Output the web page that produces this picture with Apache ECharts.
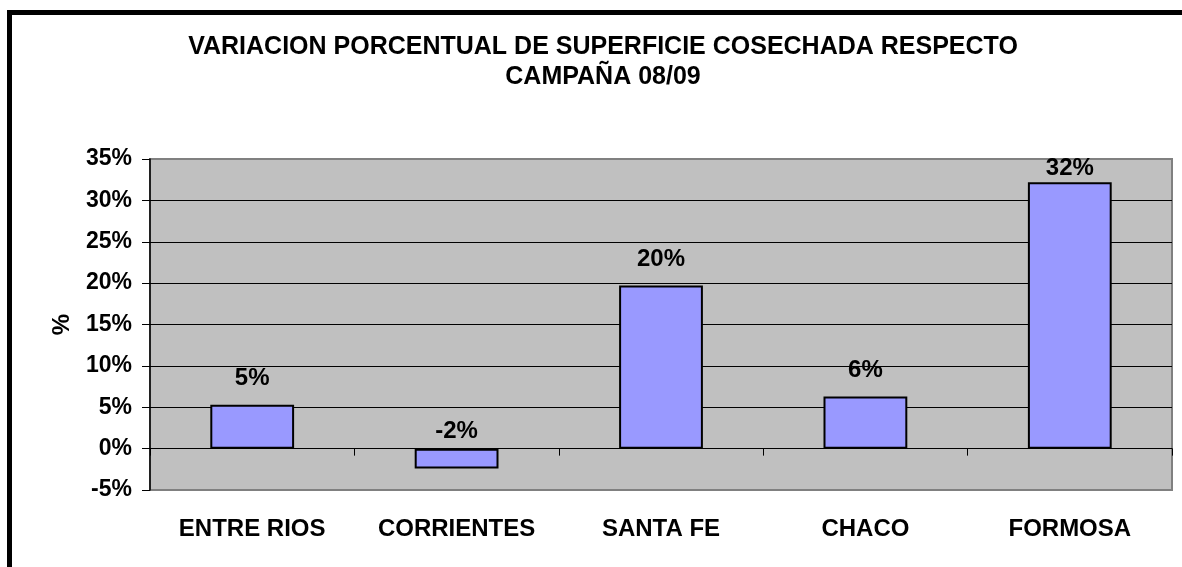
<!DOCTYPE html>
<html>
<head>
<meta charset="utf-8">
<script src="https://cdn.jsdelivr.net/npm/echarts@6/dist/echarts.min.js"></script>
<style>
  html, body { margin: 0; padding: 0; background: #fff; }
  #chart { width: 1182px; height: 567px; }
</style>
</head>
<body>
<div id="chart"></div>
<script>
var titleText = 'VARIACION PORCENTUAL DE SUPERFICIE COSECHADA RESPECTO\nCAMPAÑA 08/09';
var provincias = ['ENTRE RIOS', 'CORRIENTES', 'SANTA FE', 'CHACO', 'FORMOSA'];
var variacion = [5.3, -2.4, 19.7, 6.3, 32.2];
var yTicks = [-5, 0, 5, 10, 15, 20, 25, 30, 35];

var font = 'Arial, "Liberation Sans", sans-serif';

// Excel coloca las etiquetas a distinta altura en algunas barras
var labelDist = [14, 5, 14, 14, 2];

var chart = echarts.init(document.getElementById('chart'));
chart.setOption({
  animation: false,
  graphic: [{
    type: 'rect',
    shape: { x: 9.5, y: 12.5, width: 1400, height: 800 },
    style: { fill: 'none', stroke: '#000', lineWidth: 5 },
    z: 100
  }],
  title: {
    text: titleText,
    left: 603,
    top: 32,
    textAlign: 'center',
    padding: 0,
    textStyle: {
      fontFamily: font,
      fontSize: 25,
      fontWeight: 'bold',
      color: '#000',
      lineHeight: 30
    }
  },
  grid: {
    left: 150,
    right: 10,
    top: 159,
    bottom: 77,
    show: true,
    backgroundColor: '#C0C0C0',
    borderColor: '#808080',
    borderWidth: 2
  },
  xAxis: [{
    type: 'category',
    data: provincias,
    position: 'bottom',
    axisLine: { show: false, onZero: false },
    axisTick: { show: false },
    axisLabel: {
      interval: 0,
      margin: 27,
      fontFamily: font,
      fontSize: 24,
      fontWeight: 'bold',
      color: '#000'
    }
  }, {
    type: 'category',
    data: provincias,
    position: 'bottom',
    axisLine: { show: true, onZero: true, lineStyle: { color: '#000', width: 1 } },
    axisTick: { show: true, length: 7, lineStyle: { color: '#000' } },
    axisLabel: { show: false }
  }],
  yAxis: {
    type: 'value',
    min: yTicks[0],
    max: yTicks[yTicks.length - 1],
    interval: 5,
    name: '%',
    nameLocation: 'middle',
    nameGap: 76,
    nameRotate: 90,
    nameTextStyle: {
      fontFamily: font,
      fontSize: 24,
      fontWeight: 'bold',
      color: '#000'
    },
    axisLine: { show: true, lineStyle: { color: '#000', width: 1.5 } },
    axisTick: { show: true, length: 8, lineStyle: { color: '#000' } },
    axisLabel: {
      margin: 18,
      formatter: '{value}%',
      fontFamily: font,
      fontSize: 23,
      fontWeight: 'bold',
      color: '#000'
    },
    splitLine: {
      show: true,
      showMinLine: false,
      showMaxLine: false,
      lineStyle: { color: '#000', width: 1 }
    }
  },
  series: [{
    type: 'bar',
    xAxisIndex: 0,
    barWidth: '41%',
    data: variacion.map(function (v, i) {
      return {
        value: v,
        label: { distance: labelDist[i] }
      };
    }),
    itemStyle: {
      color: '#9999FF',
      borderColor: '#000',
      borderWidth: 2
    },
    label: {
      show: true,
      position: 'top',
      formatter: function (p) { return Math.round(p.value) + '%'; },
      fontFamily: font,
      fontSize: 24,
      fontWeight: 'bold',
      color: '#000'
    }
  }]
});
</script>
</body>
</html>
